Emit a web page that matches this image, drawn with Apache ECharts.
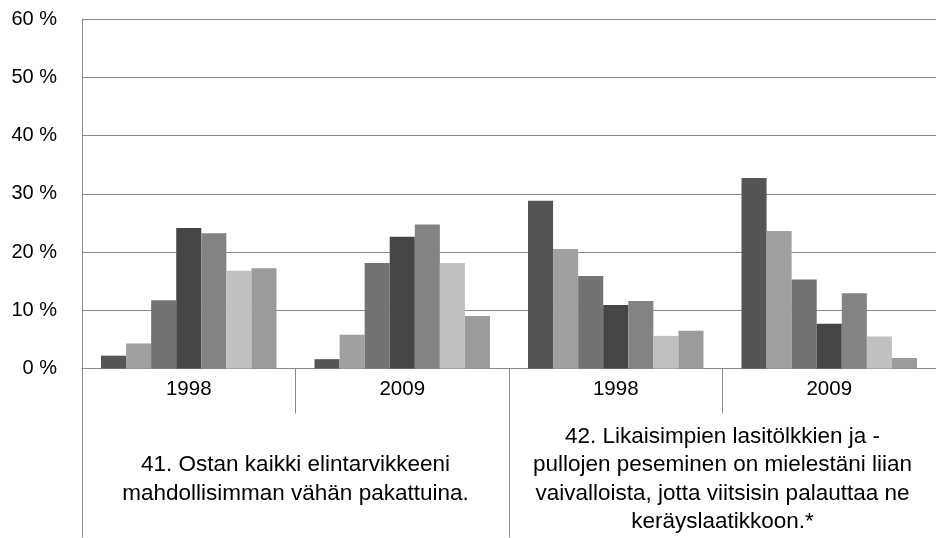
<!DOCTYPE html>
<html>
<head>
<meta charset="utf-8">
<script src="https://cdn.jsdelivr.net/npm/echarts@6/dist/echarts.min.js"></script>
<style>
  html, body { margin: 0; padding: 0; background: #fff; }
  #chart { width: 936px; height: 538px; }
</style>
</head>
<body>
<div id="chart"></div>
<script>
// Survey years per statement (inner axis level)
const years = ['1998', '2009', '1998', '2009'];
// Statements (outer axis level), wrapped to fit under two year columns each
const statements = [
  '41. Ostan kaikki elintarvikkeeni\nmahdollisimman vähän pakattuina.',
  '42. Likaisimpien lasitölkkien ja -\npullojen peseminen on mielestäni liian\nvaivalloista, jotta viitsisin palauttaa ne\nkeräyslaatikkoon.*'
];
// Y-axis ticks (percent)
const yTicks = [0, 10, 20, 30, 40, 50, 60];

// Share of answers per response option, one value per year column (%)
const option1 = [2.2, 1.6, 28.8, 32.7];
const option2 = [4.3, 5.8, 20.5, 23.6];
const option3 = [11.7, 18.1, 15.9, 15.3];
const option4 = [24.1, 22.6, 10.9, 7.7];
const option5 = [23.2, 24.7, 11.6, 12.9];
const option6 = [16.8, 18.1, 5.6, 5.5];
const option7 = [17.2, 9.0, 6.5, 1.8];

const seriesData = [option1, option2, option3, option4, option5, option6, option7];
const seriesNames = ['Vaihtoehto 1', 'Vaihtoehto 2', 'Vaihtoehto 3', 'Vaihtoehto 4',
                     'Vaihtoehto 5', 'Vaihtoehto 6', 'Vaihtoehto 7'];
const barColors = ['#555555', '#a0a0a0', '#737373', '#464646', '#838383', '#c0c0c0', '#9b9b9b'];

const FONT = '"Liberation Sans", Arial, sans-serif';
const LINE = '#898989';

const chart = echarts.init(document.getElementById('chart'), null, { renderer: 'canvas' });

chart.setOption({
  animation: false,
  backgroundColor: '#ffffff',
  grid: { left: 82, right: -2, top: 19, bottom: 169.5, containLabel: false },
  xAxis: [
    {
      type: 'category',
      position: 'bottom',
      data: years,
      boundaryGap: true,
      axisLine: { show: true, lineStyle: { color: LINE, width: 1 } },
      axisTick: { show: true, interval: 0, length: 45, lineStyle: { color: LINE, width: 1 } },
      axisLabel: {
        interval: 0, margin: 21, verticalAlign: 'middle',
        color: '#000', fontFamily: FONT, fontSize: 20.5
      },
      splitLine: { show: false }
    },
    {
      type: 'category',
      position: 'bottom',
      data: statements,
      boundaryGap: true,
      axisLine: { show: false },
      axisTick: { show: true, interval: 0, length: 169, lineStyle: { color: LINE, width: 1 } },
      axisLabel: {
        interval: 0, margin: 111, verticalAlign: 'middle', align: 'center',
        color: '#000', fontFamily: FONT, fontSize: 22.5, lineHeight: 28.5
      },
      splitLine: { show: false }
    }
  ],
  yAxis: {
    type: 'value',
    min: yTicks[0],
    max: yTicks[yTicks.length - 1],
    interval: yTicks[1] - yTicks[0],
    axisLine: { show: true, lineStyle: { color: LINE, width: 1 } },
    axisTick: { show: false },
    axisLabel: {
      margin: 25, color: '#000', fontFamily: FONT, fontSize: 20,
      formatter: v => v + ' %'
    },
    splitLine: { show: true, lineStyle: { color: LINE, width: 1 } }
  },
  series: seriesData.map((vals, i) => ({
    name: seriesNames[i],
    type: 'bar',
    xAxisIndex: 0,
    data: vals,
    barGap: '0%',
    barCategoryGap: '17.8%',
    itemStyle: { color: barColors[i] }
  }))
});
</script>
</body>
</html>
